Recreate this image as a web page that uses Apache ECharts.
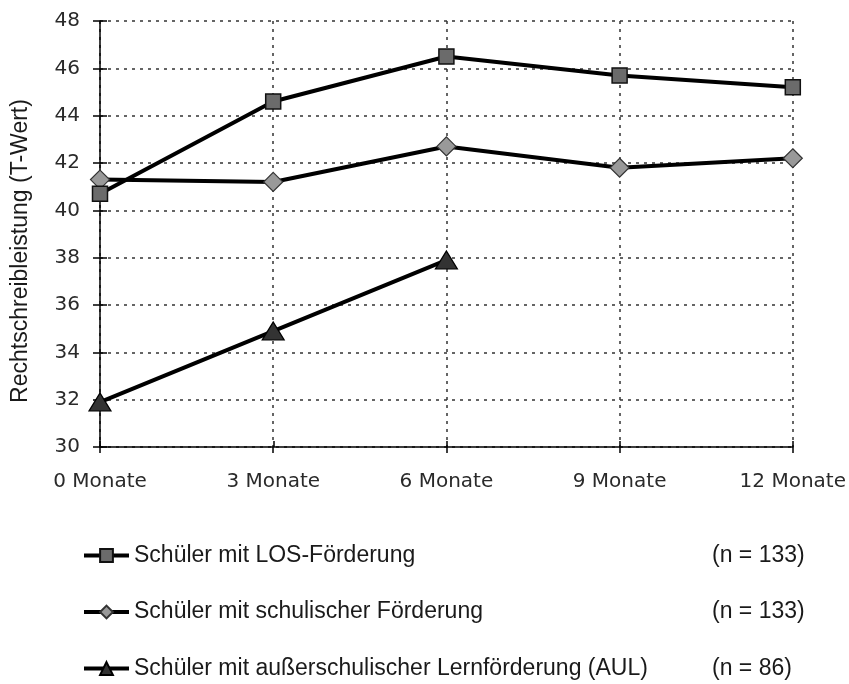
<!DOCTYPE html>
<html>
<head>
<meta charset="utf-8">
<script src="https://cdn.jsdelivr.net/npm/echarts@6/dist/echarts.min.js"></script>
<style>
html,body{margin:0;padding:0;background:#fff;}
#chart{width:849px;height:684px;}
</style>
</head>
<body>
<div id="chart"></div>
<script>
const categories = ['0 Monate', '3 Monate', '6 Monate', '9 Monate', '12 Monate'];
const seriesNames = [
  'Schüler mit LOS-Förderung',
  'Schüler mit schulischer Förderung',
  'Schüler mit außerschulischer Lernförderung (AUL)'
];
const sampleSizes = ['(n = 133)', '(n = 133)', '(n = 86)'];
const losValues = [40.7, 44.6, 46.5, 45.7, 45.2];
const schulValues = [41.3, 41.2, 42.7, 41.8, 42.2];
const aulValues = [31.9, 34.9, 37.9];
const yMin = 30, yMax = 48, yStep = 2;
const yAxisTitle = 'Rechtschreibleistung (T-Wert)';

const chart = echarts.init(document.getElementById('chart'));
const gridPos = {left: 100, right: 56, top: 21, bottom: 237};
const tickFont = {fontFamily: 'DejaVu Sans', fontSize: 20, color: '#2a2a2a'};
const dash = {color: '#333', width: 1.5, type: [3, 5]};

const nameMap = {};
seriesNames.forEach((n, i) => nameMap[n] = sampleSizes[i]);

chart.setOption({
  animation: false,
  backgroundColor: '#fff',
  grid: [Object.assign({}, gridPos), Object.assign({}, gridPos)],
  xAxis: [{
    type: 'category', gridIndex: 0, data: categories, boundaryGap: false,
    axisLine: {lineStyle: {color: '#000', width: 1.5}},
    axisTick: {show: true, inside: false, length: 6, lineStyle: {color: '#000', width: 1.5}},
    axisLabel: Object.assign({margin: 25}, tickFont),
    splitLine: {show: true, lineStyle: dash}
  }, {
    type: 'category', gridIndex: 1, data: categories, boundaryGap: false,
    axisLine: {show: false},
    axisTick: {show: true, inside: true, length: 6, lineStyle: {color: '#000', width: 1.5}},
    axisLabel: {show: false}, splitLine: {show: false}
  }],
  yAxis: [{
    type: 'value', gridIndex: 0, min: yMin, max: yMax, interval: yStep,
    axisLine: {show: true, lineStyle: {color: '#000', width: 1.5}},
    axisTick: {show: true, inside: false, length: 7, lineStyle: {color: '#000', width: 1.5}},
    axisLabel: Object.assign({margin: 20}, tickFont),
    splitLine: {show: true, lineStyle: dash}
  }, {
    type: 'value', gridIndex: 1, min: yMin, max: yMax, interval: yStep,
    axisLine: {show: false},
    axisTick: {show: true, inside: true, length: 7, lineStyle: {color: '#000', width: 1.5}},
    axisLabel: {show: false}, splitLine: {show: false}
  }],
  legend: {
    orient: 'vertical', left: 82, top: 544, padding: 0,
    itemWidth: 45, itemHeight: 16, itemGap: 33.5,
    data: seriesNames,
    lineStyle: {width: 4, color: '#000'},
    formatter: function (name) { return '{a|' + name + '}{b|' + nameMap[name] + '}'; },
    textStyle: {
      rich: {
        a: {width: 578, fontSize: 23, fontFamily: 'Liberation Sans', color: '#1a1a1a', lineHeight: 26},
        b: {fontSize: 23, fontFamily: 'Liberation Sans', color: '#1a1a1a', lineHeight: 26}
      }
    }
  },
  graphic: [{
    type: 'text',
    x: 21, y: 251, rotation: Math.PI / 2,
    style: {text: yAxisTitle, fontSize: 23, fontFamily: 'Liberation Sans', fill: '#1a1a1a', align: 'center', verticalAlign: 'middle'}
  }],
  series: [{
    name: seriesNames[0], type: 'line', data: losValues,
    symbol: 'rect', symbolSize: 15,
    lineStyle: {color: '#000', width: 4},
    itemStyle: {color: '#6b6b6b', borderColor: '#111', borderWidth: 1.5},
    z: 3
  }, {
    name: seriesNames[1], type: 'line', data: schulValues,
    symbol: 'diamond', symbolSize: 19,
    lineStyle: {color: '#000', width: 4},
    itemStyle: {color: '#999', borderColor: '#333', borderWidth: 1.2},
    z: 2
  }, {
    name: seriesNames[2], type: 'line', data: aulValues,
    symbol: 'triangle', symbolSize: [22, 18],
    lineStyle: {color: '#000', width: 4},
    itemStyle: {color: '#333', borderColor: '#000', borderWidth: 1.2},
    z: 2
  }]
});
</script>
</body>
</html>
